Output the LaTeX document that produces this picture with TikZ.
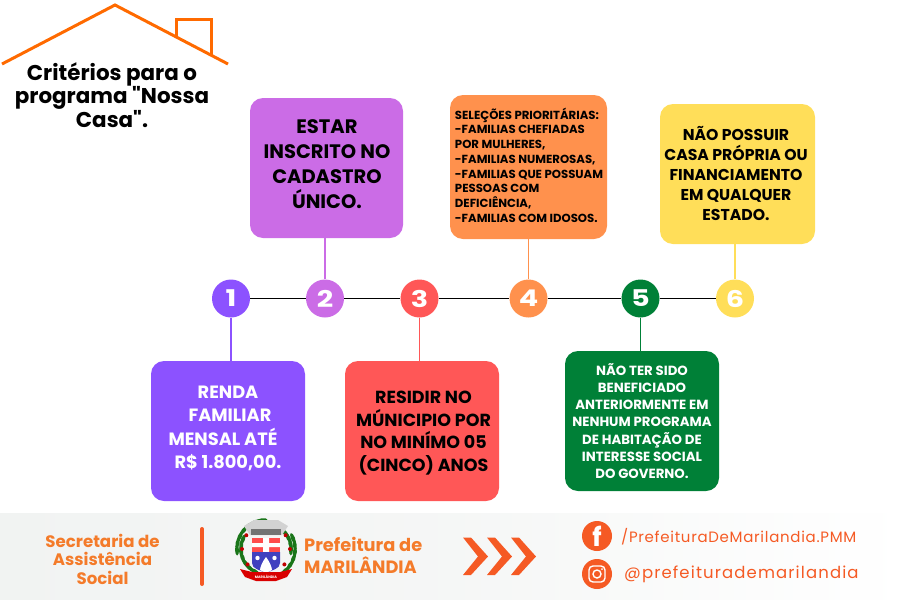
\documentclass[tikz,border=0pt]{standalone}
\usepackage{fontspec}
\setmainfont{Poppins}[Ligatures=TeXOff]
\usepackage{xcolor}
\usetikzlibrary{positioning}
\definecolor{roxo}{HTML}{8C52FF}
\definecolor{lilas}{HTML}{CB6CE6}
\definecolor{vermelho}{HTML}{FF5757}
\definecolor{laranja}{HTML}{FF914D}
\definecolor{verde}{HTML}{008037}
\definecolor{amarelo}{HTML}{FFDE59}
\definecolor{telhado}{HTML}{FF6A00}
\definecolor{rodape}{HTML}{F47B2A}
\definecolor{social}{HTML}{F55A24}
\definecolor{fundo}{HTML}{F1F3F2}
\newcommand{\txt}[2]{\fontsize{#1}{#2}\selectfont\bfseries}
\begin{document}
\begin{tikzpicture}[x=1pt, y=-1pt,
  card/.style = {rounded corners=13pt, inner sep=0pt},
  bubble/.style = {circle, minimum size=38pt, inner sep=0pt, text=white, font=\txt{23}{23}},
  cardtext/.style = {align=center, inner sep=0pt},
  link/.style = {line width=1.5pt},
  leaf/.style = {fill=green!40!black!90!white}
]
\useasboundingbox (0,0) rectangle (900,600);

% rodape
\shade[left color=fundo, right color=white, middle color=fundo!70!white, rounded corners=8pt]
  (-10,513) rectangle (910,610);

% telhado
\draw[telhado, line width=3pt] (2,64) -- (115,5) -- (228,64);
\draw[telhado, line width=3pt] (176,38) -- (176,19) -- (211,19) -- (211,55);
\node[cardtext, font=\txt{21.4}{23}] (title) at (112,95.5) {Critérios para o\\programa "Nossa\\Casa".};

% cartoes
\node[card, fill=roxo, minimum width=154pt, minimum height=140pt] (card1) at (228,431) {};
\node[card, fill=lilas, minimum width=153pt, minimum height=140pt] (card2) at (326.5,168) {};
\node[card, fill=vermelho, minimum width=154pt, minimum height=140pt] (card3) at (422,431) {};
\node[card, fill=laranja, minimum width=157pt, minimum height=144pt] (card4) at (528.5,167) {};
\node[card, fill=verde, minimum width=154pt, minimum height=140pt] (card5) at (642,421) {};
\node[card, fill=amarelo, minimum width=155pt, minimum height=140pt] (card6) at (737.5,174) {};

\node[cardtext, text=white, font=\txt{17.8}{23.3}] (txt1) at (228,428.5) {RENDA\\\hspace*{4pt}FAMILIAR\\MENSAL ATÉ\hspace*{10pt}\null\\R\$ 1.800,00.};
\node[cardtext, font=\txt{19.5}{25}] (txt2) at (327,164) {ESTAR\\INSCRITO NO\\CADASTRO\\ÚNICO.};
\node[cardtext, font=\txt{17.5}{22.8}] (txt3) at (423.5,433) {RESIDIR NO\\MÚNICIPIO POR\\NO MINÍMO 05\\(CINCO) ANOS};
\node[cardtext, align=left, font=\txt{11.7}{14.7}] (txt4) at (529,165) {SELEÇÕES PRIORITÁRIAS:\\-FAMILIAS CHEFIADAS\\POR MULHERES,\\-FAMILIAS NUMEROSAS,\\-FAMILIAS QUE POSSUAM\\PESSOAS COM\\DEFICIÊNCIA,\\-FAMILIAS COM IDOSOS.};
\node[cardtext, text=white, font=\txt{13.3}{17.2}] (txt5) at (642,421) {NÃO TER SIDO\\BENEFICIADO\\ANTERIORMENTE EM\\NENHUM PROGRAMA\\DE HABITAÇÃO DE\\INTERESSE SOCIAL\\DO GOVERNO.};
\node[cardtext, font=\txt{15.7}{20}] (txt6) at (736,173.5) {NÃO POSSUIR\\CASA PRÓPRIA OU\\FINANCIAMENTO\\EM QUALQUER\\ESTADO.};

% linha do tempo
\node[bubble, fill=roxo] (num1) at (231,298.5) {\scalebox{1.25}[1]{1}};
\node[bubble, fill=lilas] (num2) at (325,298.5) {\scalebox{1.25}[1]{2}};
\node[bubble, fill=vermelho] (num3) at (419.5,298.5) {\scalebox{1.25}[1]{3}};
\node[bubble, fill=laranja] (num4) at (528.5,298.5) {\scalebox{1.25}[1]{4}};
\node[bubble, fill=verde] (num5) at (640.5,298.5) {\scalebox{1.25}[1]{5}};
\node[bubble, fill=amarelo] (num6) at (735,298.5) {\scalebox{1.25}[1]{6}};

\draw[link] (num1) -- (num2);
\draw[link] (num2) -- (num3);
\draw[link] (num3) -- (num4);
\draw[link] (num4) -- (num5);
\draw[link] (num5) -- (num6);
\draw[link, roxo] (num1.south) -- (num1.south |- card1.north);
\draw[link, lilas] (num2.north) -- (num2.north |- card2.south);
\draw[link, vermelho] (num3.south) -- (num3.south |- card3.north);
\draw[link, laranja] (num4.north) -- (num4.north |- card4.south);
\draw[link, verde] (num5.south) -- (num5.south |- card5.north);
\draw[link, amarelo] (num6.north) -- (num6.north |- card6.south);

% textos do rodape
\node[cardtext, text=rodape, font=\txt{16.6}{18.5}] (sec) at (102.5,559) {Secretaria de\\Assistência\\Social};
\draw[social, line width=4pt, line cap=round] (202,529) -- (202,584);
\node[cardtext, text=rodape, align=left, anchor=west, font=\txt{17.8}{22}] (pref) at (304,555.5) {Prefeitura de\\MARILÂNDIA};

% brasao
\foreach \a in {128,142,...,216} {
  \fill[leaf, shift={(266,549)}, rotate=\a-30] (29,0) ellipse (2 and 5.5);
  \fill[leaf, shift={(266,549)}, rotate=\a+30] (25,0) ellipse (2 and 5.5);
  \fill[leaf, shift={(266,549)}, rotate=150-\a] (29,0) ellipse (2 and 5.5);
  \fill[leaf, shift={(266,549)}, rotate=210-\a] (25,0) ellipse (2 and 5.5);
}
\foreach \a in {140,180,215} {
  \fill[red!75!black, shift={(266,549)}] (\a:24) circle (2);
  \fill[red!75!black, shift={(266,549)}] (180-\a:24) circle (2);
}
\fill[gray!35] (250,535) -- (244,526) -- (254,520) -- (278,520) -- (288,526) -- (282,535) -- cycle;
\fill[black!55] (251,529) rectangle (281,535);
\fill[red!70!white] (252,538) rectangle (280,552);
\fill[white] (252,543) rectangle (280,547) (263,538) rectangle (269,552);
\fill[blue!50!gray] (252,552) -- (280,552) -- (280,563) .. controls (280,569) and (272,570) .. (266,573) .. controls (260,570) and (252,569) .. (252,563) -- cycle;
\fill[white] (266,557) .. controls (262,562) and (260,568) .. (260,570) -- (266,573) -- (272,570) .. controls (272,568) and (270,562) .. (266,557) -- cycle;
\fill[white] (257.5,558) circle (2.2) (274.5,558) circle (2.2);
\fill[red!85!black] (240,569) -- (252,572) -- (280,572) -- (292,569) -- (287,577) -- (276,581) -- (256,581) -- (245,577) -- cycle;
\node[text=white, inner sep=0pt, font=\txt{3.5}{4}] (ban) at (266,576.5) {MARILÂNDIA};

% setas
\foreach \s in {0,24,48}
  \fill[social, xshift=\s pt] (463,537.5) -- (471,537.5) -- (488,556.5) -- (471,575) -- (463,575) -- (478,556.5) -- cycle;

% redes
\node[circle, fill=social, minimum size=30pt, inner sep=0pt, text=white, font=\txt{26}{26}] (fb) at (597,536) {f};
\node[circle, fill=social, minimum size=30pt, inner sep=0pt] (ig) at (597,574) {};
\draw[white, line width=1.4pt, rounded corners=4pt] ([shift={(-8,-8)}]ig.center) rectangle ([shift={(8,8)}]ig.center);
\draw[white, line width=1.4pt] (ig.center) circle (4);
\fill[white] ([shift={(5,-5)}]ig.center) circle (1);
\node[text=social, anchor=west, inner sep=0pt, font=\fontsize{15}{18}\selectfont\addfontfeature{LetterSpace=4.7}] (fbtxt) at (621,537) {/PrefeituraDeMarilandia.PMM};
\node[text=social, anchor=west, inner sep=0pt, font=\fontsize{16.5}{18}\selectfont\addfontfeature{LetterSpace=6.8}] (igtxt) at (624,574) {@prefeiturademarilandia};
\end{tikzpicture}
\end{document}
